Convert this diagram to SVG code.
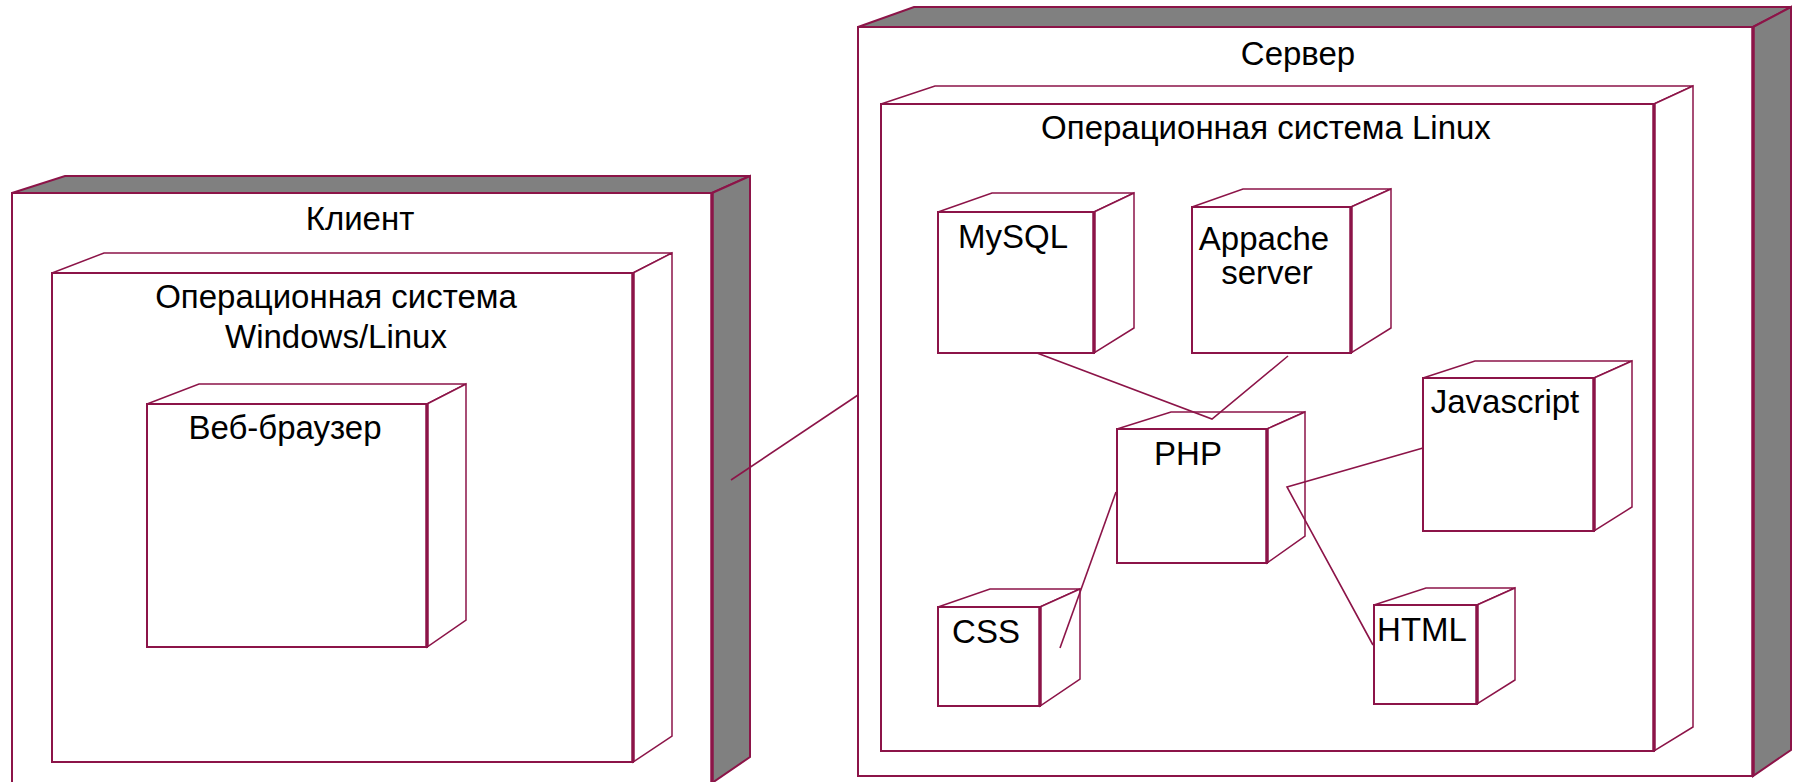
<svg xmlns="http://www.w3.org/2000/svg" width="1800" height="782" viewBox="0 0 1800 782">
<style>
.bg{fill:#ffffff}
.front{fill:#ffffff;stroke:#8c1448;stroke-width:2}
.face{fill:#ffffff;stroke:#8c1448;stroke-width:1.5;stroke-linejoin:miter}
.shade{fill:#808080;stroke:#8c1448;stroke-width:2;stroke-linejoin:miter}
.edge{stroke:#8c1448;stroke-width:3.5;fill:none}
.conn{stroke:#8c1448;stroke-width:1.6;fill:none}
.lbl{font-family:"Liberation Sans",Arial,sans-serif;font-size:33px;fill:#000000;text-anchor:middle}
</style>
<rect class="bg" x="0" y="0" width="1800" height="782"/>

<g id="client">
<polygon class="shade" points="12,193 65,176 750,176 712,193"/>
<polygon class="shade" points="712,193 750,176 750,757 712,783"/>
<rect class="front" x="12" y="193" width="700" height="590"/>
<line class="edge" x1="712" y1="193" x2="712" y2="783"/>
<text class="lbl" x="360" y="230">Клиент</text>
</g>

<g id="client-os">
<polygon class="face" points="52,273 104,253 672,253 633,273"/>
<polygon class="face" points="633,273 672,253 672,736 633,762"/>
<rect class="front" x="52" y="273" width="581" height="489"/>
<line class="edge" x1="633" y1="273" x2="633" y2="762"/>
<text class="lbl" x="336" y="308">Операционная система</text>
<text class="lbl" x="336" y="348">Windows/Linux</text>
</g>

<g id="browser">
<polygon class="face" points="147,404 199,384 466,384 427,404"/>
<polygon class="face" points="427,404 466,384 466,620 427,647"/>
<rect class="front" x="147" y="404" width="280" height="243"/>
<line class="edge" x1="427" y1="404" x2="427" y2="647"/>
<text class="lbl" x="285" y="439">Веб-браузер</text>
</g>

<g id="server">
<polygon class="shade" points="858,27 914,7 1791,7 1753,27"/>
<polygon class="shade" points="1753,27 1791,7 1791,750 1753,776"/>
<rect class="front" x="858" y="27" width="895" height="749"/>
<line class="edge" x1="1753" y1="27" x2="1753" y2="776"/>
<text class="lbl" x="1298" y="65">Сервер</text>
</g>

<g id="server-os">
<polygon class="face" points="881,104 935,86 1693,86 1654,104"/>
<polygon class="face" points="1654,104 1693,86 1693,727 1654,751"/>
<rect class="front" x="881" y="104" width="773" height="647"/>
<line class="edge" x1="1654" y1="104" x2="1654" y2="751"/>
<text class="lbl" x="1266" y="139">Операционная система Linux</text>
</g>

<g id="mysql">
<polygon class="face" points="938,212 992,193 1134,193 1094,212"/>
<polygon class="face" points="1094,212 1134,193 1134,328 1094,353"/>
<rect class="front" x="938" y="212" width="156" height="141"/>
<line class="edge" x1="1094" y1="212" x2="1094" y2="353"/>
<text class="lbl" x="1013" y="248">MySQL</text>
</g>

<g id="apache">
<polygon class="face" points="1192,207 1243,189 1391,189 1351,207"/>
<polygon class="face" points="1351,207 1391,189 1391,328 1351,353"/>
<rect class="front" x="1192" y="207" width="159" height="146"/>
<line class="edge" x1="1351" y1="207" x2="1351" y2="353"/>
<text class="lbl" x="1264" y="250">Appache</text>
<text class="lbl" x="1267" y="284">server</text>
</g>

<g id="php">
<polygon class="face" points="1117,429 1171,412 1305,412 1267,429"/>
<polygon class="face" points="1267,429 1305,412 1305,536 1267,563"/>
<rect class="front" x="1117" y="429" width="150" height="134"/>
<line class="edge" x1="1267" y1="429" x2="1267" y2="563"/>
<text class="lbl" x="1188" y="465">PHP</text>
</g>

<g id="javascript">
<polygon class="face" points="1423,378 1475,361 1632,361 1594,378"/>
<polygon class="face" points="1594,378 1632,361 1632,507 1594,531"/>
<rect class="front" x="1423" y="378" width="171" height="153"/>
<line class="edge" x1="1594" y1="378" x2="1594" y2="531"/>
<text class="lbl" x="1505" y="413">Javascript</text>
</g>

<g id="css">
<polygon class="face" points="938,607 990,589 1080,589 1040,607"/>
<polygon class="face" points="1040,607 1080,589 1080,679 1040,706"/>
<rect class="front" x="938" y="607" width="102" height="99"/>
<line class="edge" x1="1040" y1="607" x2="1040" y2="706"/>
<text class="lbl" x="986" y="643">CSS</text>
</g>

<g id="html">
<polygon class="face" points="1374,605 1426,588 1515,588 1477,605"/>
<polygon class="face" points="1477,605 1515,588 1515,680 1477,704"/>
<rect class="front" x="1374" y="605" width="103" height="99"/>
<line class="edge" x1="1477" y1="605" x2="1477" y2="704"/>
<text class="lbl" x="1422" y="641">HTML</text>
</g>

<g id="connectors">
<line class="conn" x1="731" y1="480" x2="858" y2="395"/>
<polyline class="conn" points="1037,353 1212,419 1288,356"/>
<polyline class="conn" points="1423,448 1287,487 1373,645"/>
<line class="conn" x1="1116" y1="492" x2="1060" y2="648"/>
</g>
</svg>
